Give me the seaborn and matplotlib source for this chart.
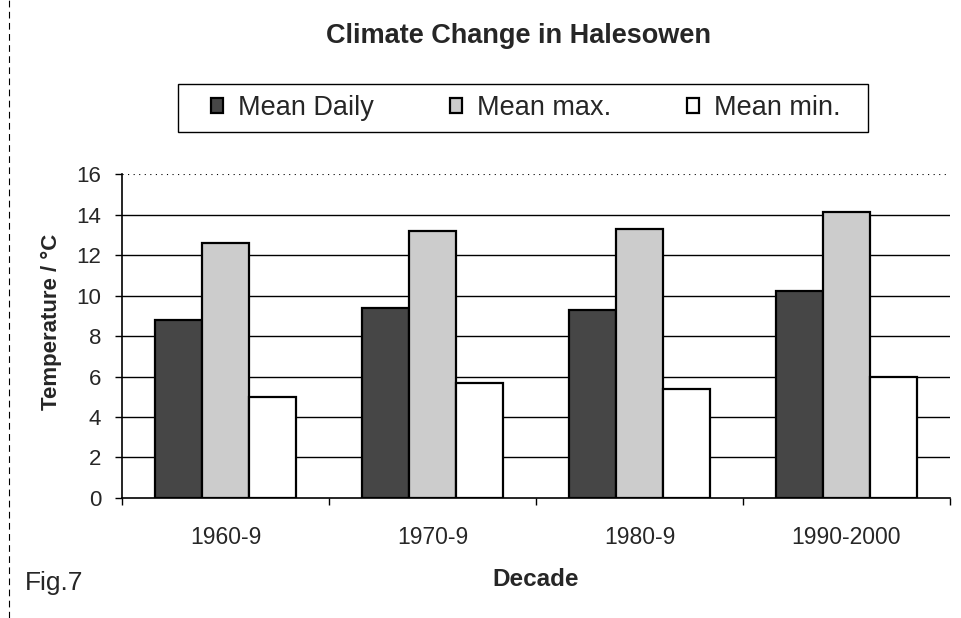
import matplotlib
matplotlib.use('Agg')
import matplotlib.pyplot as plt
import seaborn as sns
import pandas as pd
from matplotlib.lines import Line2D
from matplotlib.patches import Rectangle

# Данные
decades = ['1960-9', '1970-9', '1980-9', '1990-2000']
series = ['Mean Daily', 'Mean max.', 'Mean min.']
mean_daily = [8.8, 9.4, 9.3, 10.2]
mean_max = [12.6, 13.2, 13.3, 14.1]
mean_min = [5.0, 5.7, 5.4, 6.0]

df = pd.DataFrame({
    'decade': decades * 3,
    'series': [series[0]] * 4 + [series[1]] * 4 + [series[2]] * 4,
    'temp': mean_daily + mean_max + mean_min,
})

sns.set_theme(style='white')
plt.rcParams['font.family'] = ['Liberation Sans', 'DejaVu Sans']

fig = plt.figure(figsize=(9.62, 6.18), dpi=100)
ax = fig.add_axes([0.1268, 0.1942, 0.8607, 0.5242])

palette = {'Mean Daily': '#464646', 'Mean max.': '#cccccc', 'Mean min.': '#ffffff'}
sns.barplot(data=df, x='decade', y='temp', hue='series', order=decades,
            hue_order=series, palette=palette, width=0.68, saturation=1,
            edgecolor='black', linewidth=1.6, ax=ax, zorder=3)

# Линии сетки
for v in range(2, 16, 2):
    ax.axhline(v, color='black', linewidth=1.0, zorder=1)
ax.axhline(16, color='black', linewidth=0.8, linestyle=(0, (1, 4)), zorder=1)

ax.set_ylim(0, 16)
ax.set_xlim(-0.5, 3.5)
ax.set_yticks(range(0, 17, 2))
ax.set_xticks(range(4))
ax.set_xticklabels(decades, fontsize=16.5)
ax.set_xticks([-0.5, 0.5, 1.5, 2.5, 3.5], minor=True)
ax.tick_params(axis='x', which='major', length=0, pad=20)
ax.tick_params(axis='x', which='minor', length=5, width=1, color='black', direction='out')
ax.tick_params(axis='y', length=5, width=1, color='black', direction='out', labelsize=16, pad=10)
ax.tick_params(left=True, bottom=True, which='both')

for s in ['top', 'right']:
    ax.spines[s].set_visible(False)
for s in ['left', 'bottom']:
    ax.spines[s].set_color('black')
    ax.spines[s].set_linewidth(1.2)

ax.set_ylabel('Temperature / °C', fontsize=16, fontweight='bold')
ax.yaxis.set_label_coords(-0.072, 0.545)
ax.set_xlabel('Decade', fontsize=17.5, fontweight='bold', labelpad=14)

# Легенда (рамка отдельно)
handles, labels = ax.get_legend_handles_labels()
if ax.get_legend():
    ax.get_legend().remove()
leg = fig.legend(handles, labels, loc='center', bbox_to_anchor=(0.5465, 0.825),
                 ncol=3, fontsize=19.5, frameon=False,
                 handlelength=0.45, handleheight=0.45, handletextpad=0.55,
                 columnspacing=2.8, borderpad=0.3, borderaxespad=0)
fig.add_artist(Rectangle((178 / 962, 1 - 132 / 618), 690 / 962, 48 / 618,
                         transform=fig.transFigure, fill=False,
                         edgecolor='black', linewidth=1.0))

fig.text(0.5395, 0.942, 'Climate Change in Halesowen', ha='center', va='center',
         fontsize=19.5, fontweight='bold')
fig.text(0.026, 0.057, 'Fig.7', ha='left', va='center', fontsize=19)

# Рамка слева (как на скане)
fig.add_artist(Line2D([0.009, 0.009], [0.0, 1.0], transform=fig.transFigure,
                      color='black', linewidth=0.8, linestyle=(0, (6, 4))))

fig.savefig('out.png', dpi=100)
